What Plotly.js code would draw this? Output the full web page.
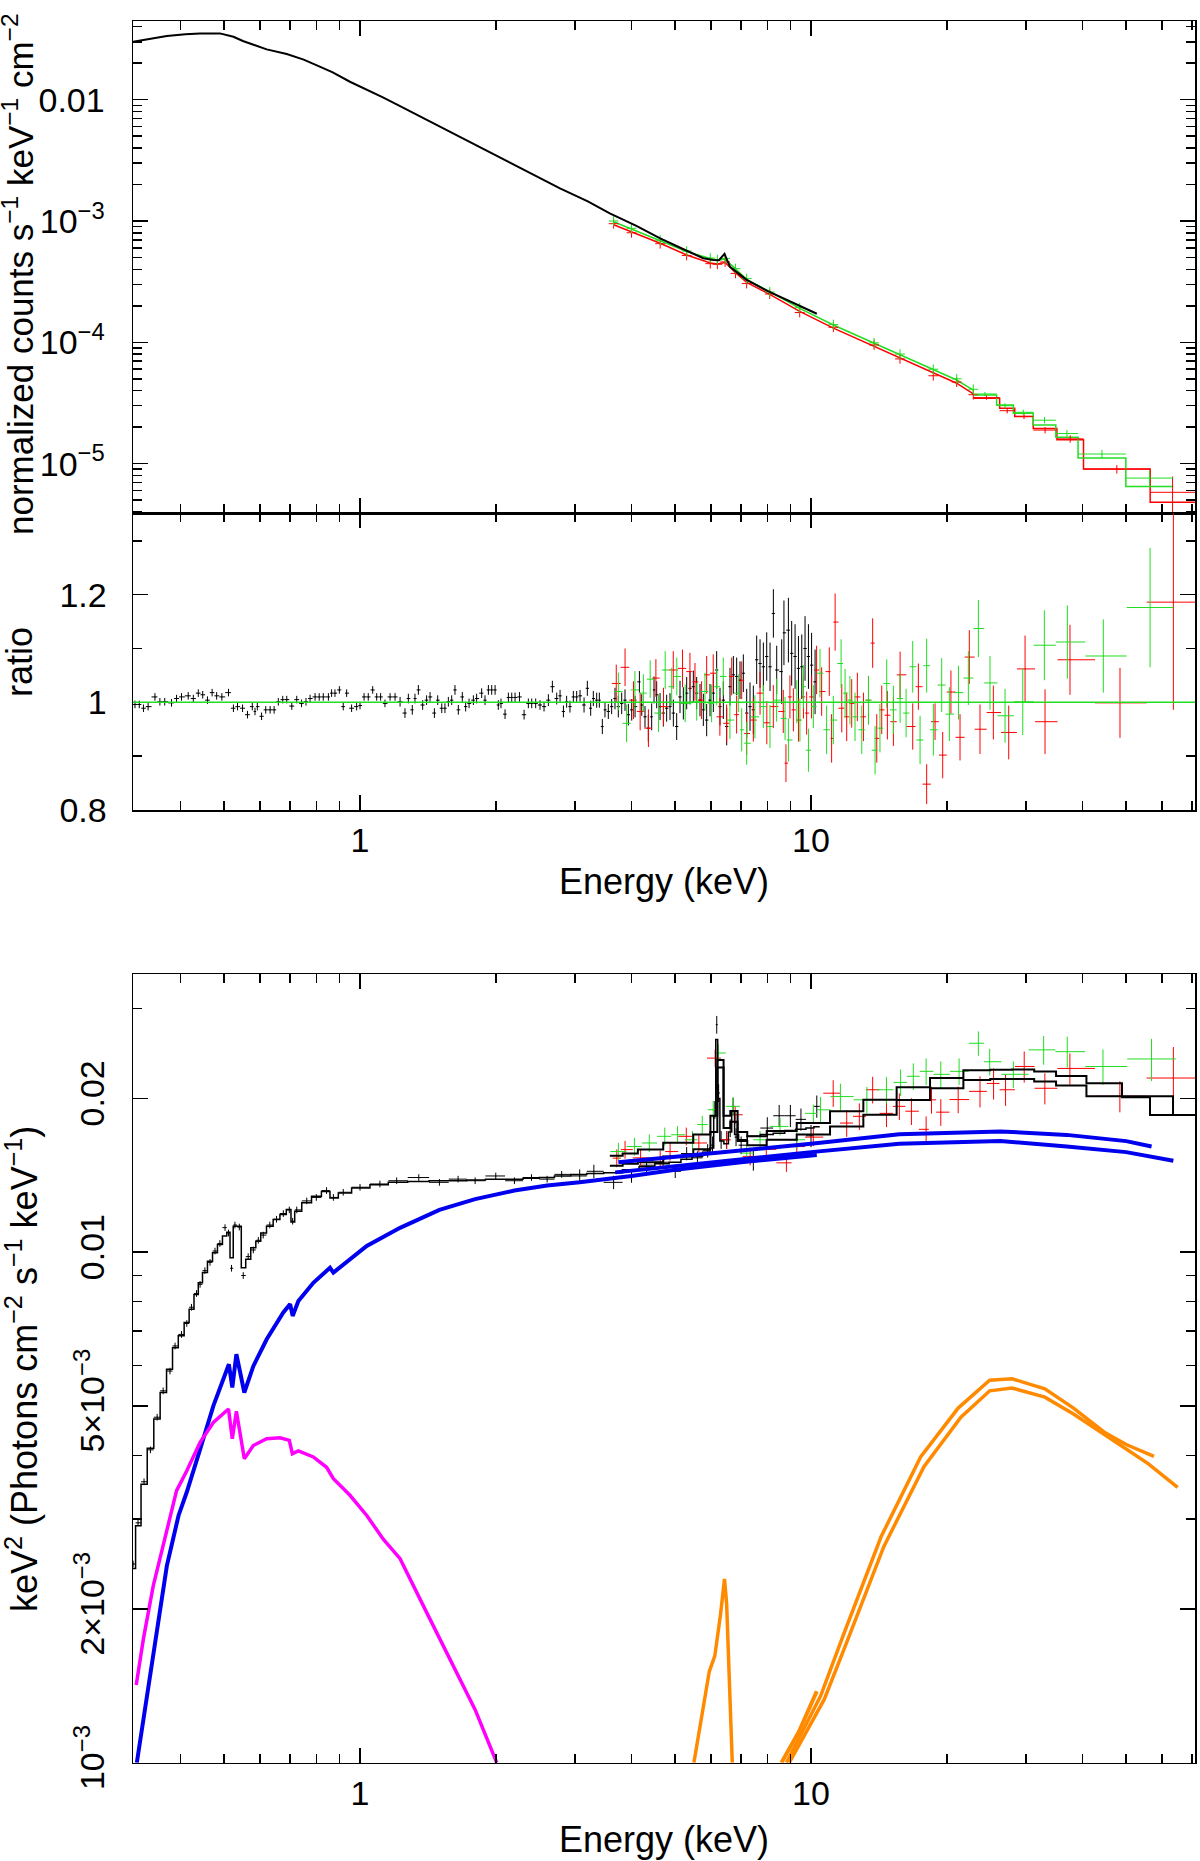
<!DOCTYPE html>
<html>
<head>
<meta charset="utf-8">
<script src="https://cdn.plot.ly/plotly-3.0.1.min.js"></script>
<style>
body { margin: 0; background: #fff; }
#chart { width: 1200px; height: 1861px; }
</style>
</head>
<body>
<div id="chart"></div>
<script>
// ---------- top panel: normalized counts ----------
var pnTopE = [0.314,0.34,0.373,0.41,0.442,0.489,0.524,0.55,0.58,0.621,
  0.688,0.75,0.80,0.87,0.95,1.035,1.127,1.227,1.4,1.6,
  1.8,2.0,2.3,2.776,3.2,3.58,4.1,4.63,5.2,5.77,
  6.07,6.25,6.43,6.61,6.9,7.2,8.0,9.14,10.3];
var pnTopCts = [0.0301,0.0318,0.0335,0.0346,0.0352,0.0352,0.0330,0.0305,0.0283,0.0260,
  0.0238,0.0214,0.0193,0.0168,0.01406,0.01218,0.0104,0.00887,0.0069,0.00535,
  0.00427,0.00349,0.00267,0.00186,0.00145,0.001156,0.00091,0.00072,0.000588,0.000493,
  0.000478,0.000475,0.000535,0.00042,0.00037,0.000327,0.000265,0.00021,0.000172];

var nuLoE = [3.65,4.0,4.63,5.3,5.98,6.2,6.45,6.8,7.2,8.1,9.44,11.21,13.8,15.75,18.67,21.04,22.9];
var faLoMod = [9.3e-4,8.1e-4,6.55e-4,5.25e-4,4.5e-4,4.42e-4,4.55e-4,3.75e-4,3.12e-4,2.48e-4,1.80e-4,1.31e-4,9.3e-5,7.4e-5,5.6e-5,4.6e-5,3.75e-5];
var fbLoMod = [9.87e-4,8.6e-4,6.9e-4,5.6e-4,4.9e-4,4.75e-4,4.85e-4,4.0e-4,3.3e-4,2.62e-4,1.905e-4,1.39e-4,9.8e-5,7.85e-5,5.91e-5,4.89e-5,4.04e-5];
var faLoDat = [9.5e-4,8.0e-4,6.5e-4,5.2e-4,4.45e-4,4.4e-4,4.6e-4,3.7e-4,3.05e-4,2.5e-4,1.76e-4,1.33e-4,9.5e-5,7.3e-5,5.3e-5,4.7e-5,3.7e-5];
var fbLoDat = [1.0e-3,8.7e-4,6.95e-4,5.65e-4,4.95e-4,4.8e-4,4.9e-4,4.05e-4,3.35e-4,2.6e-4,1.93e-4,1.4e-4,9.9e-5,8.0e-5,6.0e-5,5.0e-5,4.1e-5];

var faHiEdges = [22.9,26.2,28.3,31.1,35.1,40.2,56.5,71.0];
var faHiMod = [3.45e-5,2.86e-5,2.44e-5,1.95e-5,1.57e-5,9.03e-6,4.80e-6];
var faHiDat = [3.5e-5,2.73e-5,2.45e-5,1.89e-5,1.6e-5,9.0e-6,5.8e-6];
var faHiErrPct = [4,5,5,6,7,8,35];
var fbHiEdges = [22.9,25.8,28.1,31.1,34.9,39.1,49.9,63.6];
var fbHiMod = [3.68e-5,3.04e-5,2.60e-5,2.08e-5,1.65e-5,1.11e-5,6.46e-6];
var fbHiDat = [3.75e-5,3.0e-5,2.65e-5,2.28e-5,1.77e-5,1.2e-5,7.6e-6];
var fbHiErrPct = [4,5,5,6,7,8,15];

// ---------- middle panel: ratio ----------
var pnRatSoftE = [0.317,0.324,0.331,0.339,0.351,0.360,0.369,0.382,0.392,0.402,
  0.416,0.427,0.438,0.448,0.459,0.470,0.481,0.494,0.511,0.524,
  0.535,0.549,0.563,0.577,0.585,0.592,0.605,0.618,0.632,0.645,
  0.659,0.674,0.688,0.706,0.724,0.742,0.759,0.775,0.795,0.812,
  0.829,0.851,0.865,0.880,0.900,0.918,0.934,0.958,0.983,1.000,
  1.021,1.043,1.067,1.089,1.111,1.136,1.166,1.196];
var pnRatSoft = [0.996,0.996,0.989,0.992,1.010,1.001,1.001,0.999,1.007,1.010,
  1.012,1.007,1.017,1.014,1.004,1.018,1.012,1.010,1.018,0.989,
  0.992,0.989,0.977,0.992,0.983,0.992,0.974,0.986,0.986,0.986,
  1.001,1.005,1.005,0.993,1.005,0.998,1.001,1.007,1.010,1.010,
  1.010,1.010,1.017,1.017,1.023,0.992,1.017,0.989,0.992,0.994,
  1.010,1.010,1.023,1.010,1.010,0.998,1.010,1.010];
var pnRatSoftErr = 0.007;

var pnRatMidE = [1.227,1.258,1.280,1.306,1.324,1.347,1.377,1.405,1.430,1.462,
  1.487,1.518,1.543,1.570,1.597,1.624,1.652,1.686,1.715,1.745,
  1.784,1.814,1.861,1.893,1.926,1.959,1.993,2.026,2.054,2.097,
  2.133,2.170,2.207,2.257,2.311,2.362,2.403,2.452,2.507,2.559,
  2.616,2.670,2.730,2.777,2.825,2.872,2.921,2.972,3.023,3.075,
  3.139,3.192,3.247,3.291,3.348,3.394,3.446,3.493,3.553,3.614,
  3.676,3.739,3.804,3.869,3.936,4.004,4.073,4.164,4.214,4.285,
  4.358,4.433,4.487,4.548,4.627,4.706,4.786,4.868,4.952,5.037,
  5.123,5.211,5.301,5.392,5.484,5.578,5.674,5.771,5.870,5.971,
  6.074,6.178,6.284,6.392,6.502,6.613,6.727,6.842,6.960,7.079,
  7.201,7.325,7.450,7.578,7.709,7.841,7.976,8.113,8.252,8.394];
var pnRatMid = [1.001,0.980,1.007,0.986,1.007,1.023,0.995,1.004,1.010,0.980,
  1.004,0.989,0.989,1.001,1.004,1.023,0.986,1.010,0.992,0.998,
  1.004,1.007,1.017,1.004,1.023,1.023,1.023,0.995,0.998,0.978,
  1.009,1.009,1.009,1.010,0.977,0.998,0.998,0.998,0.995,0.992,
  1.004,1.029,1.007,1.012,0.983,1.001,0.992,1.010,1.010,1.012,
  0.995,1.026,0.989,1.007,1.004,1.004,0.955,0.986,0.983,0.992,
  1.007,0.992,0.998,1.004,0.977,0.986,0.992,1.038,0.995,0.973,
  0.952,0.973,1.023,1.014,0.992,0.980,0.989,0.992,0.980,0.955,
  1.010,0.998,1.017,1.026,1.029,1.017,1.004,0.986,0.967,1.004,
  1.017,1.060,0.992,1.004,0.955,1.029,1.051,1.048,1.041,1.054,
  0.980,0.992,0.986,1.079,1.072,1.066,1.085,1.066,1.165,1.060];
var pnRatMidErr = [0.009,0.009,0.009,0.009,0.009,0.009,0.009,0.009,0.009,0.009,
  0.009,0.009,0.009,0.009,0.009,0.009,0.009,0.009,0.009,0.009,
  0.009,0.009,0.009,0.009,0.009,0.009,0.009,0.009,0.009,0.009,
  0.009,0.009,0.009,0.009,0.009,0.009,0.009,0.009,0.009,0.009,
  0.011,0.011,0.011,0.011,0.011,0.011,0.011,0.011,0.011,0.011,
  0.014,0.014,0.014,0.014,0.014,0.014,0.014,0.014,0.014,0.014,
  0.020,0.020,0.020,0.020,0.020,0.020,0.020,0.020,0.020,0.020,
  0.025,0.025,0.025,0.025,0.025,0.025,0.025,0.025,0.025,0.025,
  0.030,0.030,0.030,0.030,0.030,0.030,0.030,0.030,0.030,0.030,
  0.035,0.035,0.035,0.035,0.035,0.035,0.035,0.035,0.035,0.035,
  0.045,0.045,0.045,0.045,0.045,0.045,0.045,0.045,0.045,0.045];
var pnRatHardE = [8.61,8.71,8.91,9.06,9.22,9.38,9.54,9.70,9.87,10.03,10.21];
var pnRatHard = [1.057,1.129,1.134,1.091,1.085,1.063,1.066,1.100,1.085,1.069,1.038];
var pnRatHardErr = 0.06;

var faRatE = [3.70,3.87,4.04,4.18,4.36,4.53,4.71,4.95,5.19,5.39,
  5.53,5.72,5.87,6.07,6.28,6.50,6.67,6.84,7.02,7.20,
  7.45,7.71,7.98,8.25,8.68,8.80,8.98,9.14,9.38,9.62,
  9.78,10.03,10.29,10.56,10.98,11.11,11.31,11.70,12.00,12.31,
  12.67,13.07,13.41,13.70,13.99,14.35,14.77,15.23,15.76,16.81,
  17.30,18.05,18.84,19.59,20.43,21.40,22.44,23.70,25.37,27.44,
  29.83,33.03,37.52,48.43,63.6];
var faRat = [1.035,1.065,1.004,0.983,0.952,1.045,0.992,1.060,1.063,1.057,
  1.038,1.004,1.051,1.054,0.973,0.961,1.048,0.977,1.041,0.942,
  0.967,1.017,0.962,0.992,0.983,0.887,1.010,0.986,0.967,1.010,
  0.980,1.010,1.060,1.020,1.057,0.933,1.149,0.989,0.973,0.998,
  1.010,0.973,1.004,1.110,0.933,0.986,0.976,0.964,1.051,0.955,
  1.029,0.848,0.964,0.902,1.019,0.935,1.084,0.950,0.981,0.944,
  1.062,0.964,1.079,0.999,1.186];
var faRatErr = [0.035,0.035,0.035,0.035,0.035,0.035,0.035,0.035,0.035,0.035,
  0.035,0.035,0.035,0.035,0.035,0.035,0.035,0.035,0.035,0.040,
  0.040,0.040,0.040,0.040,0.040,0.035,0.040,0.040,0.040,0.040,
  0.040,0.040,0.045,0.045,0.045,0.045,0.053,0.045,0.045,0.045,
  0.045,0.045,0.045,0.046,0.045,0.045,0.045,0.045,0.043,0.043,
  0.043,0.037,0.034,0.043,0.040,0.043,0.050,0.046,0.050,0.050,
  0.062,0.060,0.065,0.065,0.200];

var fbRatE = [3.74,3.90,4.07,4.25,4.40,4.59,4.75,4.91,5.04,5.26,
  5.58,5.82,6.02,6.18,6.39,6.61,6.90,7.02,7.20,7.51,
  7.84,8.11,8.39,8.76,8.91,9.30,9.45,9.62,9.87,10.12,
  10.47,10.83,11.21,11.66,11.90,12.20,12.52,12.96,13.41,13.87,
  14.22,14.72,15.23,15.76,16.25,16.81,17.45,18.05,18.68,19.49,
  20.27,21.23,22.33,23.50,24.94,26.93,29.48,32.91,37.02,44.48,
  56.47];
var fbRat = [1.020,0.961,1.023,1.017,1.043,0.980,1.060,1.029,1.048,0.998,
  1.001,1.020,0.998,1.029,1.048,0.967,1.017,0.949,0.924,0.973,
  0.992,0.955,1.004,0.970,0.930,1.001,0.967,1.029,0.911,0.992,
  1.054,0.949,0.967,1.072,1.017,1.004,0.973,0.949,1.004,0.911,
  0.952,1.035,0.986,1.007,0.980,1.066,0.930,1.068,0.949,1.032,
  0.978,1.018,1.045,1.137,1.036,0.975,1.001,1.106,1.112,1.086,
  1.176];
var fbRatErr = [0.035,0.035,0.035,0.035,0.035,0.035,0.035,0.035,0.035,0.035,
  0.035,0.035,0.035,0.035,0.035,0.035,0.035,0.040,0.040,0.040,
  0.040,0.040,0.040,0.040,0.040,0.040,0.040,0.040,0.040,0.040,
  0.045,0.045,0.045,0.045,0.045,0.045,0.045,0.045,0.045,0.045,
  0.045,0.045,0.045,0.045,0.045,0.048,0.045,0.050,0.048,0.050,
  0.050,0.050,0.050,0.053,0.050,0.050,0.062,0.065,0.068,0.068,
  0.111];

// ---------- bottom panel: unfolded E^2 F(E) ----------
var pnUfE = [0.314,0.322,0.332,0.343,0.355,0.366,0.379,0.389,0.402,0.413,
  0.423,0.434,0.442,0.453,0.465,0.477,0.489,0.502,0.511,0.519,
  0.528,0.540,0.551,0.565,0.580,0.595,0.610,0.631,0.653,0.676,
  0.697,0.709,0.724,0.762,0.800,0.843,0.873,0.918,1.0,1.107,
  1.206,1.35,1.5,1.65,1.8,2.0,2.2,2.4,2.6,2.8,
  3.07,3.3,3.65,4.0,4.32,4.7,5.0,5.3,5.6,5.9,
  6.05,6.12,6.18,6.24,6.32,6.5,6.62,6.72,6.82,7.0,
  7.45,8.0,8.5,9.0,9.5,10.0,10.3];
var pnUfMod = [2.40e-3,2.91e-3,3.51e-3,4.13e-3,4.71e-3,5.31e-3,5.90e-3,6.50e-3,6.86e-3,7.28e-3,
  7.73e-3,8.26e-3,8.71e-3,9.12e-3,9.60e-3,9.97e-3,0.01035,0.01075,0.01094,0.00975,
  0.01124,0.01124,0.00932,0.00968,0.0102,0.0105,0.0109,0.01124,0.01159,0.01185,
  0.01212,0.01145,0.01203,0.0125,0.01286,0.01315,0.01277,0.01306,0.01336,0.01355,
  0.0137,0.01375,0.0138,0.0138,0.01385,0.0139,0.0139,0.01395,0.0140,0.0141,
  0.0142,0.01425,0.0143,0.0145,0.0147,0.0149,0.0150,0.0152,0.0154,0.0157,
  0.0160,0.0185,0.0261,0.0200,0.0165,0.0163,0.0172,0.0189,0.0170,0.0166,
  0.01686,0.0170,0.0171,0.0173,0.0174,0.0175,0.0176];
var pnUfDat = [2.45e-3,2.95e-3,3.55e-3,4.10e-3,4.75e-3,5.35e-3,5.85e-3,6.55e-3,6.90e-3,7.25e-3,
  7.80e-3,8.30e-3,8.65e-3,9.20e-3,9.55e-3,0.01005,0.0104,0.01117,0.0109,0.0093,
  0.0113,0.0112,0.0090,0.0098,0.0101,0.01055,0.0108,0.0113,0.0116,0.0119,
  0.0121,0.0115,0.0121,0.0126,0.0128,0.0132,0.0128,0.0131,0.0134,0.0136,
  0.0138,0.0140,0.0137,0.0139,0.0138,0.0141,0.0138,0.0140,0.0139,0.0142,
  0.0141,0.0144,0.0137,0.0141,0.0148,0.0150,0.0144,0.0156,0.0153,0.0158,
  0.0162,0.0190,0.0279,0.0205,0.0166,0.0166,0.0175,0.0193,0.0168,0.0162,
  0.0152,0.0175,0.0185,0.0185,0.0182,0.0169,0.0193];
var pnUfErrPct = [1.5,1.5,1.5,1.5,1.5,1.5,1.5,1.5,1.5,1.5,
  1.5,1.5,1.5,1.5,1.5,1.5,1.5,1.5,1.5,1.5,
  1.5,1.5,1.5,1.5,1.5,1.5,1.5,1.5,1.5,1.5,
  1.5,1.5,1.5,1.5,1.5,1.5,1.5,1.5,1.5,1.5,
  1.5,1.5,1.5,1.5,1.5,1.5,1.5,1.5,1.5,1.5,
  3,3,3,3,3,3,3,3,3,3,
  4,4,4,4,4,4,4,4,4,4,
  5,5,5,5,5,5,5];

var faUfE = [3.71,3.87,4.19,4.63,4.87,5.29,5.64,6.13,6.50,6.79,
  7.33,7.96,8.82,9.30,10.12,11.2,12.0,12.8,13.7,14.7,
  15.7,16.7,18.0,18.5,19.4,21.2,23.7,25.4,27.0,29.7,
  33.0,37.5,48.4,63.6];
var faUf = [0.01528,0.01588,0.0153,0.0152,0.01574,0.01686,0.01636,0.02399,0.0166,0.01858,
  0.0154,0.0159,0.01496,0.0161,0.0168,0.02048,0.0179,0.01845,0.0208,0.0187,
  0.0193,0.01888,0.0174,0.01988,0.0188,0.0199,0.02065,0.0214,0.0208,0.0231,
  0.02094,0.0229,0.0202,0.02193];
var faUfErrPct = [4,4,4,4,4,4,4,4,4,4,4,4,4,4,4,6,6,6,6,6,6,6,6,6,6,6,7,7,7,7,7,7,7,15];

var fbUfE = [3.74,4.06,4.38,4.74,5.06,5.46,5.74,6.07,6.23,6.72,
  7.20,7.71,8.54,9.30,10.12,10.5,11.62,13.3,14.7,15.8,
  16.86,18.0,19.4,21.3,23.5,24.9,28.1,32.8,37.0,44.4,
  56.9];
var fbUf = [0.01574,0.0161,0.01636,0.01686,0.01698,0.0166,0.01778,0.01901,0.02455,0.0193,
  0.01563,0.0166,0.01763,0.0166,0.0187,0.019,0.02017,0.01988,0.0208,0.0215,
  0.0221,0.0226,0.0223,0.0226,0.02565,0.0236,0.0223,0.0249,0.0247,0.0231,
  0.0239];
var fbUfErrPct = [4,4,4,4,4,4,4,4,4,4,4,4,4,4,4,6,6,6,6,6,6,6,6,6,5.5,6,6,6.5,7,8,9.5];

var nuModE = [3.70,3.95,4.32,5.12,5.87,6.1,6.3,6.5,6.75,7.0,
  7.45,8.54,10.12,12.0,14.22,16.86,20.0,23.7,26.3,29.6,
  33.0,37.0,45.0,53.2,59.9,67.3];
var nuModA = [0.01545,0.01560,0.01589,0.01637,0.01699,0.0185,0.0238,0.0185,0.0189,0.0172,
  0.01686,0.01726,0.01791,0.01888,0.01988,0.02104,0.02193,0.0227,0.02276,0.0228,
  0.02259,0.02214,0.02142,0.0202,0.0202,0.01857];
var nuModB = [0.01477,0.0149,0.0150,0.0154,0.0159,0.0172,0.0230,0.0175,0.0180,0.0165,
  0.0162,0.0166,0.0170,0.01763,0.01858,0.01987,0.02094,0.02174,0.02183,0.02183,
  0.0216,0.0212,0.0202,0.0201,0.01857,0.01857];

var pnPowE = [0.320,0.335,0.348,0.373,0.396,0.413,0.442,0.473,0.512,0.521,
  0.532,0.554,0.580,0.621,0.676,0.700,0.709,0.730,0.788,0.858,
  0.873,0.950,1.035,1.227,1.50,1.80,2.20,2.60,3.07,4.0,
  5.0,7.0,10.3];
var pnPow = [1.0e-3,1.30e-3,1.62e-3,2.43e-3,3.05e-3,3.39e-3,4.11e-3,5.0e-3,6.03e-3,5.43e-3,
  6.31e-3,5.31e-3,5.98e-3,6.75e-3,7.62e-3,7.91e-3,7.5e-3,8.02e-3,8.71e-3,9.32e-3,
  9.12e-3,9.68e-3,0.01028,0.01116,0.0121,0.0127,0.0132,0.0135,0.0137,0.0141,
  0.0145,0.0150,0.0155];
var faPowE = [3.74,6.0,10.0,15.7,26.3,36.9,50.0,56.9];
var faPow = [0.0150,0.0156,0.0163,0.01702,0.01724,0.01697,0.0165,0.0161];
var fbPowE = [3.68,6.0,10.0,15.7,26.3,36.9,50.0,63.6];
var fbPow = [0.01433,0.0150,0.0157,0.0163,0.01651,0.0161,0.0157,0.0151];

var softE = [0.319,0.331,0.348,0.373,0.392,0.413,0.442,0.473,0.511,0.521,
  0.532,0.554,0.580,0.621,0.665,0.697,0.708,0.730,0.788,0.843,
  0.873,0.950,1.035,1.126,1.227,1.413,1.59,1.80,2.01];
var soft = [1.42e-3,1.75e-3,2.22e-3,2.87e-3,3.41e-3,3.73e-3,4.24e-3,4.64e-3,4.93e-3,4.31e-3,
  4.88e-3,3.94e-3,4.18e-3,4.31e-3,4.33e-3,4.28e-3,4.03e-3,4.08e-3,3.97e-3,3.79e-3,
  3.60e-3,3.34e-3,3.05e-3,2.74e-3,2.51e-3,1.95e-3,1.58e-3,1.27e-3,1.0e-3];

var feLineE = [5.50,5.95,6.12,6.30,6.43,6.50,6.69];
var feLine = [1.0e-3,1.51e-3,1.62e-3,1.95e-3,2.29e-3,2.05e-3,1.0e-3];
var pnReflE = [8.6,9.4,10.3];
var pnRefl = [1.0e-3,1.15e-3,1.38e-3];
var faReflE = [8.82,10.5,11.8,14.3,17.5,21.2,24.9,27.9,33.0,38.2,44.7,50.0,57.6];
var faRefl = [1.0e-3,1.35e-3,1.78e-3,2.77e-3,3.97e-3,4.95e-3,5.61e-3,5.65e-3,5.40e-3,4.95e-3,4.44e-3,4.2e-3,3.98e-3];
var fbReflE = [8.95,10.7,12.0,14.5,17.8,21.5,24.9,27.9,33.0,38.2,48.3,56.0,65.0];
var fbRefl = [1.0e-3,1.33e-3,1.72e-3,2.65e-3,3.8e-3,4.75e-3,5.35e-3,5.42e-3,5.2e-3,4.82e-3,4.2e-3,3.85e-3,3.46e-3];

// ---------- helpers ----------
var col = {black:'#000000', red:'#ff0000', green:'#22dd22', blue:'#0000ee', magenta:'#ff00ff', orange:'#ff8a00'};
var fontFam = 'Liberation Sans, Arial, Helvetica, sans-serif';

function edgesOf(c){
    var e = [];
    for (var i = 0; i < c.length - 1; i++) e.push(Math.sqrt(c[i]*c[i+1]));
    var first = c[0]*c[0]/e[0];
    var last = c[c.length-1]*c[c.length-1]/e[e.length-1];
    return [first].concat(e, [last]);
}
function centersOf(e){
    var c = [];
    for (var i = 0; i < e.length - 1; i++) c.push(Math.sqrt(e[i]*e[i+1]));
    return c;
}
function pctToAbs(v, p){ return v.map(function(x, i){ return x*p[i]/100; }); }

function stepLine(edges, vals, color, width, xa, ya){
    return {x: edges, y: vals.concat([vals[vals.length-1]]), type:'scatter', mode:'lines',
	    line:{shape:'hv', color:color, width:width}, xaxis:xa, yaxis:ya, hoverinfo:'none'};
}
function plainLine(x, y, color, width, xa, ya){
    return {x:x, y:y, type:'scatter', mode:'lines', line:{color:color, width:width},
	    xaxis:xa, yaxis:ya, hoverinfo:'none'};
}
function crosses(x, y, err, edges, color, xa, ya){
    var t = {x:x, y:y, type:'scatter', mode:'markers', marker:{size:1, color:color},
	     xaxis:xa, yaxis:ya, hoverinfo:'none',
	     error_y:{type:'data', array:err, width:0, thickness:1, color:color}};
    if (edges){
	t.error_x = {type:'data', width:0, thickness:1, color:color,
		     array: x.map(function(v, i){ return edges[i+1]-v; }),
		     arrayminus: x.map(function(v, i){ return v-edges[i]; })};
    }
    return t;
}
function tinyCrosses(x, y, color, xa, ya){
    return {x:x, y:y, type:'scatter', mode:'markers', xaxis:xa, yaxis:ya, hoverinfo:'none',
	    marker:{symbol:'cross-thin', size:7, line:{width:1, color:color}, color:color}};
}

var data = [];

// top panel
var faHiC = centersOf(faHiEdges), fbHiC = centersOf(fbHiEdges);
data.push(stepLine(faHiEdges, faHiMod, col.red, 1.5, 'x', 'y'));
data.push(stepLine(fbHiEdges, fbHiMod, col.green, 1.5, 'x', 'y'));
data.push(plainLine(nuLoE, faLoMod, col.red, 1.5, 'x', 'y'));
data.push(plainLine(nuLoE, fbLoMod, col.green, 1.5, 'x', 'y'));
data.push(tinyCrosses(nuLoE, faLoDat, col.red, 'x', 'y'));
data.push(tinyCrosses(nuLoE, fbLoDat, col.green, 'x', 'y'));
data.push(crosses(faHiC, faHiDat, pctToAbs(faHiDat, faHiErrPct), faHiEdges, col.red, 'x', 'y'));
data.push(crosses(fbHiC, fbHiDat, pctToAbs(fbHiDat, fbHiErrPct), fbHiEdges, col.green, 'x', 'y'));
data.push(plainLine(pnTopE, pnTopCts, col.black, 2, 'x', 'y'));

// ratio panel
var pnRatE = pnRatSoftE.concat(pnRatMidE, pnRatHardE);
var pnRat = pnRatSoft.concat(pnRatMid, pnRatHard);
var pnRatErr = pnRatSoftE.map(function(){ return pnRatSoftErr; })
    .concat(pnRatMidErr, pnRatHardE.map(function(){ return pnRatHardErr; }));
data.push(crosses(pnRatE, pnRat, pnRatErr, edgesOf(pnRatE), col.black, 'x2', 'y2'));
data.push(crosses(faRatE, faRat, faRatErr, edgesOf(faRatE), col.red, 'x2', 'y2'));
data.push(crosses(fbRatE, fbRat, fbRatErr, edgesOf(fbRatE), col.green, 'x2', 'y2'));

// bottom panel
data.push(crosses(pnUfE, pnUfDat, pctToAbs(pnUfDat, pnUfErrPct), edgesOf(pnUfE), col.black, 'x3', 'y3'));
data.push(crosses(faUfE, faUf, pctToAbs(faUf, faUfErrPct), edgesOf(faUfE), col.red, 'x3', 'y3'));
data.push(crosses(fbUfE, fbUf, pctToAbs(fbUf, fbUfErrPct), edgesOf(fbUfE), col.green, 'x3', 'y3'));
data.push(stepLine(edgesOf(pnUfE), pnUfMod, col.black, 1.5, 'x3', 'y3'));
data.push(stepLine(edgesOf(nuModE), nuModA, col.black, 2, 'x3', 'y3'));
data.push(stepLine(edgesOf(nuModE), nuModB, col.black, 2, 'x3', 'y3'));
data.push(plainLine(pnPowE, pnPow, col.blue, 4, 'x3', 'y3'));
data.push(plainLine(faPowE, faPow, col.blue, 4, 'x3', 'y3'));
data.push(plainLine(fbPowE, fbPow, col.blue, 4, 'x3', 'y3'));
data.push(plainLine(softE, soft, col.magenta, 3.5, 'x3', 'y3'));
data.push(plainLine(feLineE, feLine, col.orange, 3.5, 'x3', 'y3'));
data.push(plainLine(pnReflE, pnRefl, col.orange, 4, 'x3', 'y3'));
data.push(plainLine(faReflE, faRefl, col.orange, 3.5, 'x3', 'y3'));
data.push(plainLine(fbReflE, fbRefl, col.orange, 3.5, 'x3', 'y3'));

// ---------- axes ----------
function logMinor(lo, hi){
    var out = [];
    for (var d = -7; d <= 2; d++)
	for (var m = 2; m <= 9; m++){
	    var v = m*Math.pow(10, d);
	    if (v > lo && v < hi) out.push(+v.toPrecision(3));
	}
    return out;
}
var xRange = [-0.50333, 1.85144];
var xDom = [133/1200, 1195/1200];
var tickFont = {family:fontFam, size:34, color:'black'};

function xAxis(anchor, labels){
    return {type:'log', range:xRange, domain:xDom, anchor:anchor,
	    showline:true, linecolor:'black', linewidth:1.5, mirror:'allticks',
	    ticks:'inside', ticklen:15, tickwidth:1.5, tickcolor:'black',
	    tickmode:'array', tickvals:[1,10], ticktext:['1','10'],
	    showticklabels:labels, tickfont:tickFont, ticklabelstandoff:0,
	    minor:{tickmode:'array', tickvals:logMinor(0.3, 80), ticks:'inside', ticklen:9,
		   tickwidth:1.5, tickcolor:'black', showgrid:false},
	    showgrid:false, zeroline:false, fixedrange:true};
}
function yAxis(anchor, dom, extra){
    var a = {domain:dom, anchor:anchor, showline:true, linecolor:'black', linewidth:1.5,
	     mirror:'allticks', ticks:'inside', ticklen:15, tickwidth:1.5, tickcolor:'black',
	     tickmode:'array', tickfont:tickFont, showgrid:false, zeroline:false, fixedrange:true};
    for (var k in extra) a[k] = extra[k];
    return a;
}
var minorStyle = {tickmode:'array', ticks:'inside', ticklen:9, tickwidth:1.5, tickcolor:'black', showgrid:false};

var layout = {
    width:1200, height:1861, margin:{l:0, r:0, t:0, b:0},
    paper_bgcolor:'white', plot_bgcolor:'white', showlegend:false,
    font:{family:fontFam, color:'black'},
    xaxis: xAxis('y', false),
    yaxis: yAxis('x', [1-513.3/1861, 1-21/1861], {
	type:'log', range:[-5.4097, -1.3512],
	tickvals:[1e-5,1e-4,1e-3,1e-2],
	ticktext:['10<sup>\u22125</sup>','10<sup>\u22124</sup>','10<sup>\u22123</sup>','0.01'],
	ticklabelstandoff:20,
	minor:Object.assign({tickvals:logMinor(3.9e-6, 0.045)}, minorStyle)}),
    xaxis2: xAxis('y2', true),
    yaxis2: yAxis('x2', [1-810/1861, 1-513.3/1861], {
	type:'linear', range:[0.8, 1.351],
	tickvals:[0.8,1,1.2], ticktext:['0.8','1','1.2'],
	ticklabelstandoff:18,
	minor:Object.assign({tickvals:[0.9,1.1,1.3]}, minorStyle)}),
    xaxis3: xAxis('y3', true),
    yaxis3: yAxis('x3', [1-1762.7/1861, 1-974.3/1861], {
	type:'log', range:[-3, -1.4558],
	tickvals:[0.001,0.002,0.005,0.01,0.02],
	ticktext:['10<sup>\u22123</sup>','2\u00d710<sup>\u22123</sup>','5\u00d710<sup>\u22123</sup>','0.01','0.02'],
	tickangle:-90, ticklabelstandoff:14,
	minor:Object.assign({tickvals:[0.003,0.004,0.006,0.007,0.008,0.009,0.03]}, minorStyle)}),
    shapes:[{type:'line', xref:'x2 domain', yref:'y2', x0:0, x1:1, y0:1, y1:1,
	     line:{color:col.green, width:1.5}}],
    annotations:[
	{text:'normalized counts s<sup>\u22121</sup> keV<sup>\u22121</sup> cm<sup>\u22122</sup>',
	 xref:'paper', yref:'paper', x:18/1200, y:1-537/1861, xanchor:'center', yanchor:'bottom',
	 textangle:-90, showarrow:false, font:{family:fontFam, size:35, color:'black'}},
	{text:'ratio', xref:'paper', yref:'paper', x:20/1200, y:1-662/1861,
	 xanchor:'center', yanchor:'middle', textangle:-90, showarrow:false,
	 font:{family:fontFam, size:36, color:'black'}},
	{text:'keV<sup>2</sup> (Photons cm<sup>\u22122</sup> s<sup>\u22121</sup> keV<sup>\u22121</sup>)',
	 xref:'paper', yref:'paper', x:22/1200, y:1-1369/1861, xanchor:'center', yanchor:'middle',
	 textangle:-90, showarrow:false, font:{family:fontFam, size:36, color:'black'}},
	{text:'Energy (keV)', xref:'paper', yref:'paper', x:664/1200, y:1-882/1861,
	 xanchor:'center', yanchor:'middle', showarrow:false, font:{family:fontFam, size:36, color:'black'}},
	{text:'Energy (keV)', xref:'paper', yref:'paper', x:664/1200, y:1-1839/1861,
	 xanchor:'center', yanchor:'middle', showarrow:false, font:{family:fontFam, size:36, color:'black'}}
    ]
};

var config = {displayModeBar:false, staticPlot:true};
Plotly.newPlot('chart', data, layout, config);
</script>
</body>
</html>
